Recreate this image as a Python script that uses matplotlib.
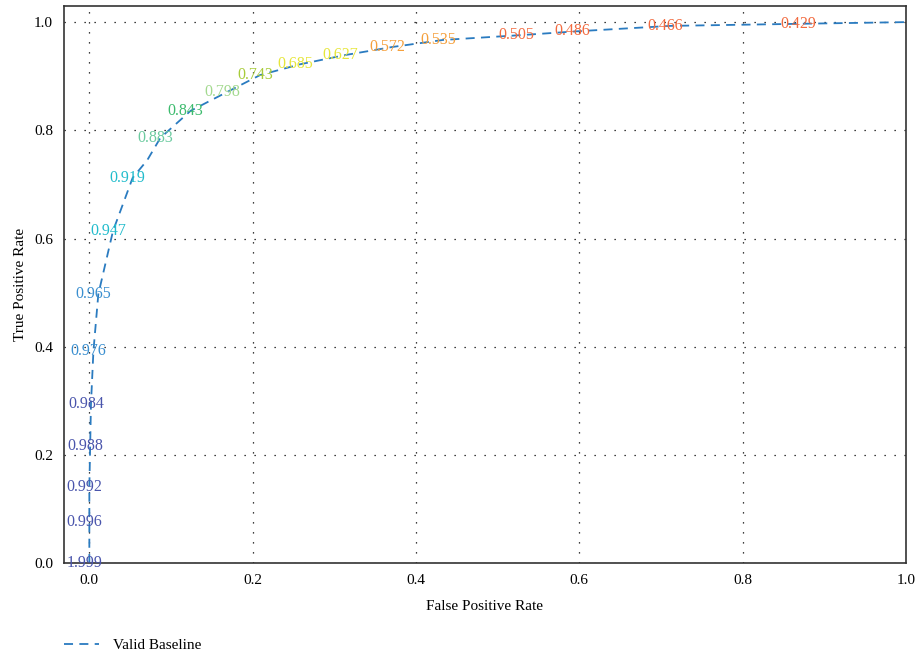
import matplotlib
matplotlib.use("Agg")
import matplotlib.pyplot as plt

plt.rcParams['font.family'] = ['Liberation Serif', 'DejaVu Serif']

# ROC curve points
fpr = [0.0, 0.0, 0.0, 0.001, 0.002, 0.005, 0.011, 0.029, 0.053, 0.071, 0.087,
       0.124, 0.169, 0.209, 0.258, 0.313, 0.371, 0.433, 0.529, 0.597, 0.711,
       0.874, 1.0]
tpr = [0.0, 0.076, 0.140, 0.216, 0.294, 0.392, 0.497, 0.614, 0.712, 0.745, 0.786,
       0.836, 0.871, 0.902, 0.922, 0.939, 0.954, 0.967, 0.976, 0.983, 0.993,
       0.997, 1.0]

# threshold labels shown along the curve
label_fpr = [0.0, 0.0, 0.0, 0.001, 0.002, 0.005, 0.011, 0.029, 0.053, 0.087,
             0.124, 0.169, 0.209, 0.258, 0.313, 0.371, 0.433, 0.529, 0.597,
             0.711, 0.874]
label_tpr = [0.0, 0.076, 0.140, 0.216, 0.294, 0.392, 0.497, 0.614, 0.712, 0.786,
             0.836, 0.871, 0.902, 0.922, 0.939, 0.954, 0.967, 0.976, 0.983,
             0.993, 0.997]
thresholds = ['1.999', '0.996', '0.992', '0.988', '0.984', '0.976', '0.965',
              '0.947', '0.919', '0.883', '0.843', '0.798', '0.743', '0.685',
              '0.627', '0.572', '0.535', '0.505', '0.486', '0.466', '0.429']
label_colors = ['#4a55ac', '#4a55ac', '#4a55ac', '#4a55ac', '#4a55ac',
                '#3a8fd0', '#3a8fd0', '#22bccc', '#22bccc', '#6ccba0',
                '#3dbb6e', '#a3d98f', '#a8cc3a', '#e6e63a', '#e6e63a',
                '#f5a03c', '#f5a03c', '#f26a3f', '#f26a3f', '#f26a3f', '#f26a3f']

fig = plt.figure(figsize=(9.16, 6.54), dpi=100)
ax = fig.add_axes([0.0699, 0.139, 0.919, 0.852])

line, = ax.plot(fpr, tpr, color='#2a7bc0', lw=1.3, linestyle=(0, (5, 3.5)),
                label='Valid Baseline')

for x, y, t, c in zip(label_fpr, label_tpr, thresholds, label_colors):
    ax.annotate(t, (x, y), xytext=(-3.6, 0), textcoords='offset points',
                ha='center', va='center', color=c, fontsize=11.5)

ax.set_xlim(-0.031, 1.0)
ax.set_ylim(0.0, 1.03)
ax.set_xticks([0.0, 0.2, 0.4, 0.6, 0.8, 1.0])
ax.set_yticks([0.0, 0.2, 0.4, 0.6, 0.8, 1.0])
ax.tick_params(length=0, labelsize=11, pad=8)
ax.grid(True, color='black', linestyle=(0, (1, 7)), linewidth=0.9)

for s in ax.spines.values():
    s.set_color('#333333')
    s.set_linewidth(1.2)

ax.set_xlabel('False Positive Rate', fontsize=11, labelpad=9)
ax.set_ylabel('True Positive Rate', fontsize=11, labelpad=5)

fig.legend(handles=[line], loc='lower left', bbox_to_anchor=(0.055, -0.018),
           frameon=False, fontsize=11, handlelength=2.3, handletextpad=0.9)

fig.savefig('out.png', dpi=100)
